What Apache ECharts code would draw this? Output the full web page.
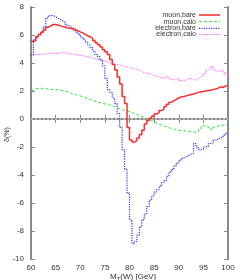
<!DOCTYPE html>
<html><head><meta charset="utf-8">
<script src="https://cdn.jsdelivr.net/npm/echarts@6/dist/echarts.min.js"></script>
<style>html,body{margin:0;padding:0;background:#fff}#c{width:240px;height:280px}</style>
</head><body><div id="c"></div>
<script>
// bin left edges: 60, 60.5, ... 99.5 (0.5 GeV bins)
const binStart = 60, binWidth = 0.5;
const xTicks = [60,65,70,75,80,85,90,95,100];
const yTicks = [-10,-8,-6,-4,-2,0,2,4,6,8];
const seriesNames = ['muon,bare','muon,calo','electron,bare','electron,calo'];
const muonBare = [
 5.55,5.6,5.9,6.05,6.2,6.35,6.55,6.65,6.75,6.75,
 6.7,6.65,6.6,6.55,6.5,6.48,6.45,6.4,6.3,6.22,
 6.15,6.05,5.95,5.88,5.75,5.6,5.45,5.3,5.15,4.95,
 4.8,4.6,4.25,3.9,3.5,3.0,2.5,1.6,1.1,-0.6,
 -1.5,-1.65,-1.55,-1.35,-1.1,-0.8,-0.35,-0.1,0.05,0.2,
 0.35,0.45,0.6,0.7,0.9,1.05,1.2,1.3,1.4,1.5,
 1.58,1.6,1.65,1.7,1.75,1.78,1.85,1.9,1.95,1.97,
 2.0,2.03,2.05,2.1,2.15,2.2,2.3,2.25,2.35,2.4];
const muonCalo = [
 2.05,2.15,2.2,2.2,2.18,2.15,2.15,2.12,2.1,2.1,
 2.08,2.05,2.03,2.0,1.95,1.88,1.8,1.75,1.7,1.65,
 1.6,1.55,1.45,1.4,1.32,1.28,1.22,1.18,1.12,1.08,
 1.02,1.0,0.95,0.88,0.8,0.72,0.68,0.62,0.58,0.52,
 0.45,0.4,0.33,0.25,0.18,0.1,0.03,-0.05,-0.12,-0.22,
 -0.3,-0.38,-0.43,-0.5,-0.55,-0.62,-0.67,-0.72,-0.78,-0.8,
 -0.83,-0.85,-0.85,-0.9,-0.9,-0.92,-0.95,-0.9,-0.75,-0.5,
 -0.45,-0.55,-0.7,-0.78,-0.6,-0.5,-0.45,-0.45,-0.42,-0.45];
const electronBare = [
 4.57,5.7,5.85,6.0,6.2,6.6,7.2,7.38,7.4,7.3,
 7.2,7.1,7.0,6.9,6.7,6.6,6.5,6.35,6.2,6.05,
 5.85,5.7,5.5,5.3,5.1,4.85,4.6,4.45,4.2,3.8,
 2.9,2.1,1.9,1.5,1.1,0.4,-0.6,-2.2,-3.6,-5.3,
 -7.2,-8.9,-8.75,-8.3,-7.7,-7.2,-6.8,-6.26,-5.8,-5.5,
 -5.2,-5.05,-4.8,-4.55,-4.4,-4.1,-3.8,-3.6,-3.35,-3.15,
 -2.95,-2.8,-2.7,-2.6,-2.5,-2.45,-1.75,-2.0,-2.2,-2.15,
 -2.0,-1.95,-1.75,-1.7,-1.5,-1.45,-1.35,-1.3,-1.15,-1.0];
const electronCalo = [
 4.57,4.6,4.62,4.62,4.63,4.65,4.68,4.7,4.7,4.68,
 4.7,4.72,4.74,4.7,4.72,4.66,4.62,4.6,4.58,4.55,
 4.52,4.48,4.45,4.4,4.35,4.3,4.25,4.22,4.18,4.12,
 4.08,4.02,3.98,3.93,3.88,3.84,3.8,3.76,3.72,3.68,
 3.62,3.58,3.55,3.5,3.4,3.3,3.28,3.25,3.18,3.12,
 3.08,3.0,2.95,2.9,3.0,3.02,2.85,2.78,2.82,2.92,
 2.75,2.72,2.8,2.9,2.88,2.8,2.78,2.9,3.02,3.1,
 3.25,3.5,3.6,3.75,3.5,3.38,3.45,3.5,3.3,3.15];

function toPairs(vals){
  const out = vals.map((v,i)=>[binStart+i*binWidth, v]);
  out.push([binStart+vals.length*binWidth, vals[vals.length-1]]);
  return out;
}
const styles = [
  {color:'#ff2a2a', type:'solid', width:1.5},
  {color:'#33e033', type:[3,2], width:1},
  {color:'#3030ff', type:[1.2,1.2], width:1.2},
  {color:'#ff66ff', type:[1.5,1], width:1}
];
const datas = [muonBare, muonCalo, electronBare, electronCalo];
const gray = '#8a8a8a';
const font = 'Liberation Sans, Arial, sans-serif';
const chart = echarts.init(document.getElementById('c'), null, {renderer:'canvas'});
const series = datas.map((d,i)=>({
  name: seriesNames[i], type:'line', step:'end', symbol:'none', data: toPairs(d),
  lineStyle: {color:styles[i].color, type:styles[i].type, width:styles[i].width},
  itemStyle: {color:styles[i].color},
  z: 10-i, animation:false
}));
series.push({
  type:'line', data:[[60,0],[100,0]], symbol:'none', silent:true, animation:false,
  lineStyle:{color:'#c8c8c8', type:[2,2], width:1.5}, z:1
});
const commonAxis = {
  axisLine:{show:true, lineStyle:{color:gray, width:2}},
  axisTick:{show:true, inside:true, length:4, lineStyle:{color:gray, width:1}},
  splitLine:{show:false}
};
// manual legend (text right aligned, sample line to the right)
const legendRowsY = [15, 21.7, 28.3, 34.5];
const legendGraphics = [];
seriesNames.forEach((n,i)=>{
  legendGraphics.push({type:'text', x:196, y:legendRowsY[i], z:100,
    style:{text:n, font:'7px '+font, fill:'#333', textAlign:'right', textVerticalAlign:'middle'}});
  legendGraphics.push({type:'line', z:100,
    shape:{x1:199, y1:legendRowsY[i], x2:220, y2:legendRowsY[i]},
    style:{stroke:styles[i].color, lineWidth:styles[i].width, lineDash: styles[i].type==='solid'?null:styles[i].type}});
});
chart.setOption({
  animation:false,
  grid:{left:31, right:12, top:7, bottom:21},
  xAxis:[
    Object.assign({type:'value', min:60, max:100, interval:5, position:'bottom',
      axisLabel:{fontSize:8, color:'#333', fontFamily:font, margin:5}}, commonAxis),
    Object.assign({type:'value', min:60, max:100, interval:5, position:'top',
      axisLabel:{show:false}}, commonAxis)
  ],
  yAxis:[
    Object.assign({type:'value', min:-10, max:8, interval:2, position:'left',
      axisLabel:{fontSize:8, color:'#333', fontFamily:font, margin:7}}, commonAxis),
    Object.assign({type:'value', min:-10, max:8, interval:2, position:'right',
      axisLabel:{show:false}}, commonAxis)
  ],
  graphic:[
    {type:'text', x:4, y:142, rotation:Math.PI/2,
      style:{text:'δ(%)', font:'7px '+font, fill:'#333'}},
    {type:'text', x:110, y:272,
      style:{text:'{a|M}{b|T}{a|(W) [GeV]}', font:'8px '+font, fill:'#333',
        rich:{a:{fontSize:8, fontFamily:font, fill:'#333'}, b:{fontSize:6, fontFamily:font, fill:'#333', padding:[4,0,0,0]}}}}
  ].concat(legendGraphics),
  series: series
});
</script></body></html>
